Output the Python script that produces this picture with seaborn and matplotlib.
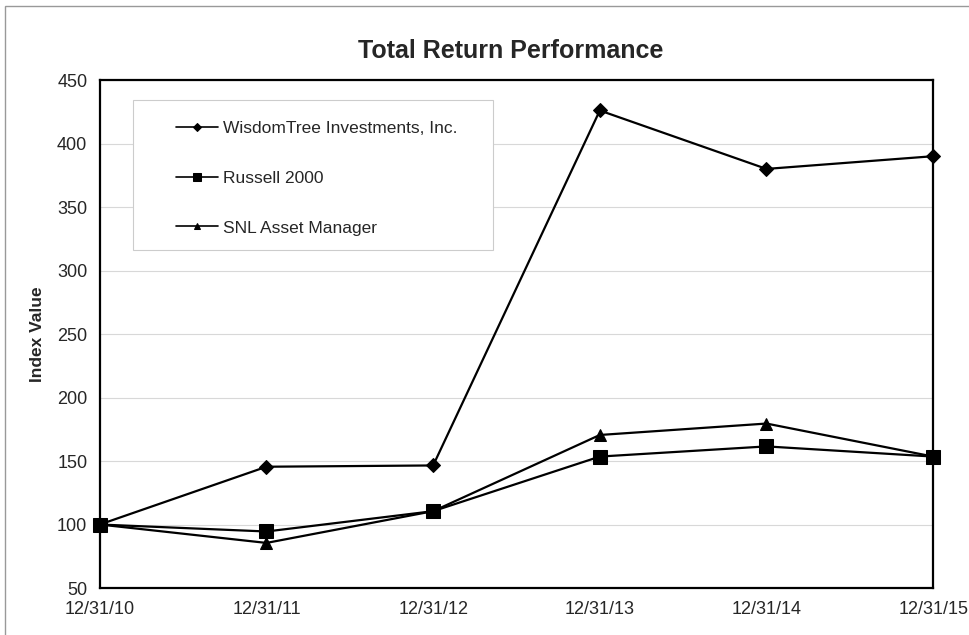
import pandas as pd
import numpy as np
import matplotlib
matplotlib.use("Agg")
import matplotlib.pyplot as plt
import seaborn as sns
from matplotlib.patches import Rectangle

# Data
dates = ["12/31/10", "12/31/11", "12/31/12", "12/31/13", "12/31/14", "12/31/15"]
wisdomtree = [100, 145.5, 146.5, 426, 380, 390]
russell = [100, 94.5, 110.5, 153.5, 161.5, 153.5]
snl = [100, 85.5, 110.5, 170.5, 179.5, 153.5]

series_names = ["WisdomTree Investments, Inc.", "Russell 2000", "SNL Asset Manager"]

df = pd.DataFrame({
    "pos": list(range(len(dates))) * 3,
    "value": wisdomtree + russell + snl,
    "Series": np.repeat(series_names, len(dates)),
})

sns.set_style("white")
plt.rcParams["font.family"] = ["Liberation Sans", "DejaVu Sans"]

fig = plt.figure(figsize=(9.69, 6.35), dpi=100)
ax = fig.add_axes([0.103, 0.074, 0.86, 0.80])

markers = {
    "WisdomTree Investments, Inc.": "D",
    "Russell 2000": "s",
    "SNL Asset Manager": "^",
}
sizes = {"WisdomTree Investments, Inc.": 7.5, "Russell 2000": 9.5, "SNL Asset Manager": 9}

for name in series_names:
    sub = df[df["Series"] == name]
    sns.lineplot(data=sub, x="pos", y="value", ax=ax, color="black",
                 marker=markers[name], markersize=sizes[name], linewidth=1.6,
                 markeredgecolor="black", label=name, zorder=3, clip_on=False)

ax.set_xlim(0, len(dates) - 1)
ax.set_ylim(50, 450)
ax.set_yticks(range(50, 451, 50))
ax.set_xticks(range(len(dates)))
ax.set_xticklabels(dates)
ax.yaxis.grid(True, color="#d8d8d8", linewidth=0.8)
ax.set_axisbelow(True)
for s in ax.spines.values():
    s.set_color("black")
    s.set_linewidth(1.6)
ax.tick_params(axis="both", labelsize=13, direction="out", length=5,
               width=0.8, color="#555555", pad=4)
ax.set_xlabel("")
ax.set_ylabel("Index Value", fontsize=12.5, fontweight="bold", labelpad=9)
ax.set_title("Total Return Performance", fontsize=18, fontweight="bold",
             pad=16, x=0.493)

# legend without frame, frame drawn separately so padding can be wider
leg = ax.legend(loc="upper left", bbox_to_anchor=(0.092, 0.92), frameon=False,
                fontsize=12.5, handlelength=2.4, labelspacing=2.0,
                borderpad=0, handletextpad=0.3, markerscale=0.55,
                borderaxespad=0)
for h in leg.get_lines():
    h.set_linewidth(1.2)
ax.add_patch(Rectangle((0.0396, 0.665), 0.432, 0.296, transform=ax.transAxes,
                       facecolor="white", edgecolor="#cccccc", linewidth=0.8,
                       zorder=2.5))

# thin outer border around the chart
fig.patches.append(Rectangle((5 / 969, -0.05), 1.1, 1 - 6 / 635 + 0.05,
                             transform=fig.transFigure, fill=False,
                             edgecolor="#999999", linewidth=1.0))

fig.savefig("out.png", dpi=100)
